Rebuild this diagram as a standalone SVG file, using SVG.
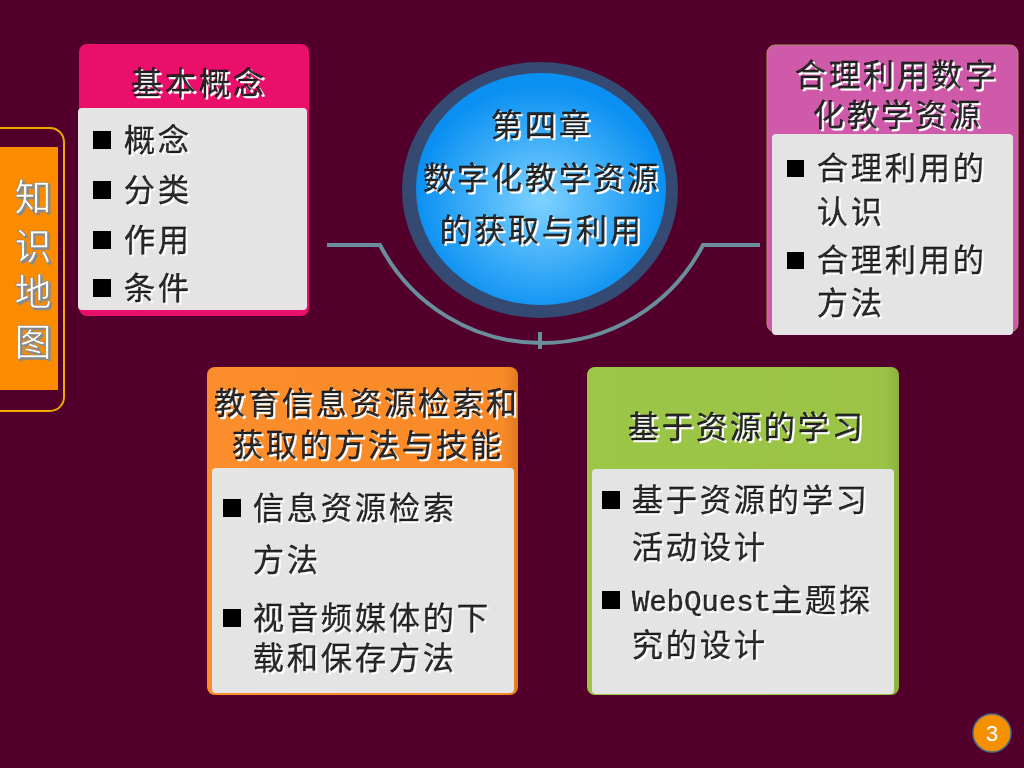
<svg xmlns="http://www.w3.org/2000/svg" width="1024" height="768" viewBox="0 0 1024 768">
<defs>
<style>
.t{font-family:"Noto Sans CJK SC","Noto Sans",sans-serif;font-size:31px;letter-spacing:3px;fill:#2a2a2a;stroke:#000;stroke-width:0.5;filter:url(#emb)}
.c{text-anchor:middle}
.mono{font-family:"Liberation Mono",monospace;font-size:29px;letter-spacing:0}
.inner{fill:#e4e4e4}
.bul{fill:#000}
.conn{fill:none;stroke:#6a8e9c;stroke-width:4}
</style>
<filter id="emb" x="-5%" y="-10%" width="110%" height="130%">
<feOffset in="SourceAlpha" dx="1.5" dy="1.5" result="o"/>
<feFlood flood-color="#ffffff"/>
<feComposite in2="o" operator="in" result="s"/>
<feMerge><feMergeNode in="s"/><feMergeNode in="SourceGraphic"/></feMerge>
</filter>
<filter id="embw" x="-10%" y="-10%" width="130%" height="130%">
<feOffset in="SourceAlpha" dx="1.5" dy="1.5" result="o"/>
<feFlood flood-color="#8a8a8a"/>
<feComposite in2="o" operator="in" result="s"/>
<feMerge><feMergeNode in="s"/><feMergeNode in="SourceGraphic"/></feMerge>
</filter>
<radialGradient id="blue" cx="0.5" cy="0.55" r="0.5">
<stop offset="0" stop-color="#7fd2ff"/>
<stop offset="1" stop-color="#0a90f2"/>
</radialGradient>
<linearGradient id="org" x1="0" y1="0" x2="1" y2="0">
<stop offset="0" stop-color="#fb8d2c"/>
<stop offset="0.95" stop-color="#f98a28"/>
<stop offset="1" stop-color="#e07a20"/>
</linearGradient>
<linearGradient id="grn" x1="0" y1="0" x2="1" y2="0">
<stop offset="0" stop-color="#9cc648"/>
<stop offset="0.95" stop-color="#9bc446"/>
<stop offset="1" stop-color="#8cb23c"/>
</linearGradient>
</defs>
<rect width="1024" height="768" fill="#52002b"/>

<g id="connectors">
<path class="conn" d="M327,245 H380 A182,182 0 0 0 703,245 H760"/>
<line class="conn" x1="540" y1="332" x2="540" y2="349"/>
</g>

<g id="map-tab">
<rect x="-20" y="128" width="84" height="283" rx="14" fill="#52002b" stroke="#f0a800" stroke-width="2"/>
<rect x="0" y="147" width="58" height="243" fill="#fb8c00"/>
<g style="font-family:'Noto Sans CJK SC',sans-serif;font-size:37px;fill:#ffffff;stroke:#777;stroke-width:0.5;filter:url(#embw)" text-anchor="middle">
<text x="33" y="211">知</text>
<text x="33" y="260">识</text>
<text x="33" y="306">地</text>
<text x="33" y="356">图</text>
</g>
</g>

<g id="center">
<ellipse cx="540" cy="190" rx="138" ry="128" fill="#344a72"/>
<ellipse cx="541" cy="189" rx="125" ry="116" fill="url(#blue)"/>
<text class="t c" x="542" y="136">第四章</text>
<text class="t c" x="542" y="189">数字化教学资源</text>
<text class="t c" x="542" y="241">的获取与利用</text>
</g>

<g id="basic">
<rect x="79" y="44" width="230" height="272" rx="8" fill="#ea0f6b"/>
<rect class="inner" x="78" y="108" width="229" height="202" rx="4"/>
<text class="t c" x="199" y="94">基本概念</text>
<rect class="bul" x="93" y="131" width="18" height="18"/>
<rect class="bul" x="93" y="181" width="18" height="18"/>
<rect class="bul" x="93" y="231" width="18" height="18"/>
<rect class="bul" x="93" y="279" width="18" height="18"/>
<text class="t" x="124" y="151">概念</text>
<text class="t" x="124" y="201">分类</text>
<text class="t" x="124" y="251">作用</text>
<text class="t" x="124" y="299">条件</text>
</g>

<g id="use">
<rect x="767" y="45" width="251" height="287" rx="8" fill="#cf5aaa" stroke="#b09060" stroke-width="1"/>
<rect class="inner" x="772" y="134" width="241" height="201" rx="4"/>
<text class="t c" x="897" y="86">合理利用数字</text>
<text class="t c" x="898" y="126">化教学资源</text>
<rect class="bul" x="787" y="160" width="17" height="17"/>
<rect class="bul" x="787" y="252" width="17" height="17"/>
<text class="t" x="817" y="179">合理利用的</text>
<text class="t" x="817" y="223">认识</text>
<text class="t" x="817" y="271">合理利用的</text>
<text class="t" x="817" y="314">方法</text>
</g>

<g id="retrieval">
<rect x="207" y="367" width="311" height="328" rx="8" fill="url(#org)"/>
<rect class="inner" x="212" y="468" width="302" height="225" rx="4"/>
<text class="t c" x="367" y="414">教育信息资源检索和</text>
<text class="t c" x="368" y="456">获取的方法与技能</text>
<rect class="bul" x="223" y="499" width="18" height="18"/>
<rect class="bul" x="223" y="609" width="18" height="18"/>
<text class="t" x="253" y="519">信息资源检索</text>
<text class="t" x="253" y="571">方法</text>
<text class="t" x="253" y="629">视音频媒体的下</text>
<text class="t" x="253" y="669">载和保存方法</text>
</g>

<g id="learning">
<rect x="587" y="367" width="312" height="328" rx="8" fill="url(#grn)"/>
<rect class="inner" x="592" y="469" width="302" height="225" rx="4"/>
<text class="t c" x="747" y="438">基于资源的学习</text>
<rect class="bul" x="602" y="491" width="18" height="18"/>
<rect class="bul" x="602" y="591" width="18" height="18"/>
<text class="t" x="632" y="511">基于资源的学习</text>
<text class="t" x="632" y="558">活动设计</text>
<text class="t" x="632" y="611"><tspan class="mono">WebQuest</tspan>主题探</text>
<text class="t" x="632" y="656">究的设计</text>
</g>

<g id="page">
<circle cx="992" cy="733" r="19" fill="#f59000" stroke="#4a6a8a" stroke-width="1.5"/>
<text x="992" y="741" text-anchor="middle" style="font-family:'Liberation Sans',sans-serif;font-size:22px;fill:#ffffff">3</text>
</g>
</svg>
